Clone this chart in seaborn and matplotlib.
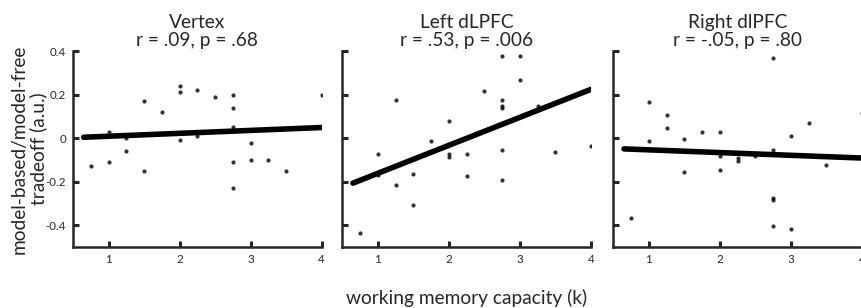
import matplotlib
matplotlib.use('Agg')
import matplotlib.pyplot as plt
import numpy as np
import pandas as pd
import seaborn as sns

# working memory capacity (k) and tradeoff values
vertex_k = [0.75, 1, 1, 1.25, 1.25, 1.5, 1.5, 1.75, 2, 2, 2, 2.25, 2.25, 2.5,
            2.75, 2.75, 2.75, 2.75, 2.75, 3, 3, 3.25, 3.5, 4]
vertex_w = [-0.13, 0.03, -0.11, 0.0, -0.06, 0.17, -0.15, 0.12, 0.24, 0.21, -0.01, 0.22, 0.01, 0.19,
            0.20, 0.14, 0.05, -0.11, -0.23, -0.02, -0.10, -0.10, -0.15, 0.20]

left_k = [0.75, 1, 1, 1.25, 1.25, 1.5, 1.5, 1.75, 2, 2, 2, 2.25, 2.25, 2.5,
          2.75, 2.75, 2.75, 2.75, 2.75, 2.75, 3, 3, 3.25, 3.5, 4]
left_w = [-0.435, -0.074, -0.17, 0.177, -0.214, -0.163, -0.305, -0.014, 0.078, -0.074, -0.085, -0.074, -0.172, 0.218,
          0.378, 0.177, 0.148, 0.138, -0.052, -0.194, 0.378, 0.268, 0.148, -0.063, -0.034]

right_k = [0.75, 1, 1, 1.25, 1.25, 1.5, 1.5, 1.75, 2, 2, 2, 2.25, 2.25, 2.5,
           2.75, 2.75, 2.75, 2.75, 2.75, 3, 3, 3.25, 3.5, 4]
right_w = [-0.365, 0.168, -0.014, 0.108, 0.048, -0.003, -0.154, 0.028, 0.028, -0.083, -0.145, -0.092, -0.103, -0.083,
           0.369, -0.052, -0.275, -0.286, -0.405, 0.008, -0.415, 0.068, -0.123, 0.117]

titles = ['Vertex\nr = .09, p = .68', 'Left dLPFC\nr = .53, p = .006', 'Right dlPFC\nr = -.05, p = .80']
xticks = [1, 2, 3, 4]
yticks = [-0.4, -0.2, 0, 0.2, 0.4]
ytick_labels = ['-0.4', '-0.2', '0', '0.2', '0.4']

sns.set_style('ticks')
plt.rcParams['font.family'] = ['Lato', 'DejaVu Sans']

fig = plt.figure(figsize=(8.62, 3.08), dpi=100)
lefts = [0.0847, 0.3971, 0.7115]
axes = [fig.add_axes([l, 0.198, 0.2885, 0.636]) for l in lefts]

panels = [(vertex_k, vertex_w), (left_k, left_w), (right_k, right_w)]
for i, (ax, (k, w)) in enumerate(zip(axes, panels)):
    df = pd.DataFrame({'k': k, 'w': w})
    # regression line starts a bit left of the first point, like the original
    ax.set_xlim(0.65, 4)
    sns.regplot(data=df, x='k', y='w', ax=ax, ci=None, truncate=False,
                scatter_kws={'s': 9, 'color': 'black', 'linewidths': 0},
                line_kws={'color': 'black', 'lw': 4})
    ax.set_xlim(0.5, 4)
    ax.set_ylim(-0.5, 0.4)
    ax.set_xticks(xticks)
    ax.set_yticks(yticks)
    ax.set_yticklabels(ytick_labels if i == 0 else [])
    ax.set_xlabel('')
    ax.set_ylabel('')
    ax.set_title(titles[i], fontsize=13.8, linespacing=1.02, pad=4)
    sns.despine(ax=ax)
    for s in ['left', 'bottom']:
        ax.spines[s].set_linewidth(1.8)
    ax.tick_params(direction='in', length=4, width=2.2, labelsize=8.3, pad=5)

axes[0].set_ylabel('model-based/model-free\ntradeoff (a.u.)', fontsize=13.8, linespacing=1.12)
axes[0].yaxis.set_label_coords(-0.102, 0.5)
axes[1].set_xlabel('working memory capacity (k)', fontsize=13.8, labelpad=17)

plt.savefig('out.png', dpi=100)
